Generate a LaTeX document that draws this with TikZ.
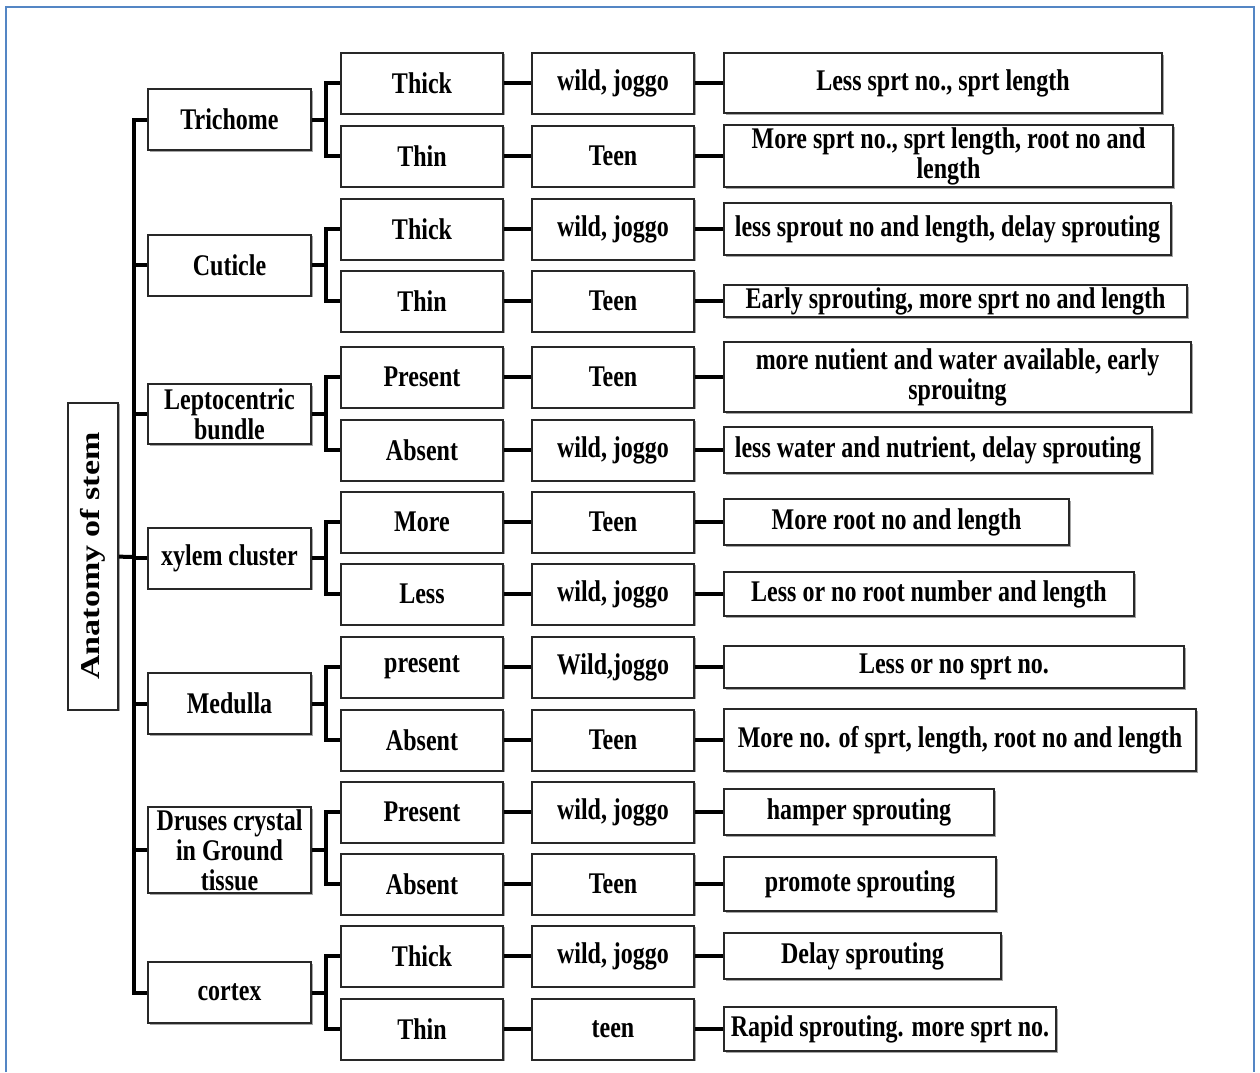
\documentclass[tikz,border=0pt]{standalone}
\usepackage{fontspec}
\setmainfont{Liberation Serif}[FakeStretch=0.8]
\newfontfamily\rootfont{Liberation Serif}
\usetikzlibrary{calc,shadows}
\definecolor{frameblue}{RGB}{84,134,196}
\definecolor{boxline}{RGB}{40,40,40}
\tikzset{
  box/.style={draw=boxline, line width=2pt, fill=white, inner sep=0pt, align=center,
    font=\fontsize{30}{30}\selectfont\bfseries,
    drop shadow={shadow xshift=1.5pt, shadow yshift=-1.5pt, opacity=0.35, fill=black}},
  partbox/.style={box, minimum width=163, minimum height=61},
  statebox/.style={box, minimum width=162, minimum height=61},
  conn/.style={line width=4pt, line join=miter},
}
\begin{document}
\begin{tikzpicture}[x=1pt,y=-1pt]
  \useasboundingbox (0,0) rectangle (1260,1072);
  \draw[frameblue, line width=2pt] (6,1072) -- (6,7) -- (1254,7) -- (1254,1072);

  % root
  \node[box, rotate=90, minimum width=307, minimum height=50] (root) at (93,556)
    {\scalebox{1}[0.8]{\rootfont\bfseries\fontsize{34}{34}\selectfont Anatomy of stem}};
  \coordinate (trunk) at (134,557);

  % parts of the stem
  \node[partbox] (trichome) at (229.5,119.5) {Trichome};
  \node[partbox] (cuticle) at (229.5,265) {Cuticle};
  \node[partbox, minimum height=60] (lepto) at (229.5,414) {Leptocentric\\bundle};
  \node[partbox] (xylem) at (229.5,558) {xylem cluster};
  \node[partbox] (medulla) at (229.5,703.5) {Medulla};
  \node[partbox, minimum height=86] (druses) at (229.5,850) {Druses crystal\\in Ground\\tissue};
  \node[partbox] (cortex) at (229.5,992.5) {cortex};

  % state, genotype, effect
  \foreach \i/\y/\state/\grp/\w/\h/\eff in {
    1/83/Thick/{wild, joggo}/438/60/{Less sprt no., sprt length},
    2/156/Thin/Teen/449/62/{More sprt no., sprt length, root no and\\length},
    3/229/Thick/{wild, joggo}/447/52/{less sprout no and length, delay sprouting},
    4/301/Thin/Teen/463/32/{Early sprouting, more sprt no and length},
    5/377/Present/Teen/467/70/{more nutient and water available, early\\sprouitng},
    6/450/Absent/{wild, joggo}/428/46/{less water and nutrient, delay sprouting},
    7/522/More/Teen/345/46/{More root no and length},
    8/594/Less/{wild, joggo}/410/44/{Less or no root number and length},
    9/667/present/{Wild,joggo}/460/42/{Less or no sprt no.},
    10/740/Absent/Teen/472/62/{More no. of sprt, length, root no and length},
    11/812/Present/{wild, joggo}/270/46/{hamper sprouting},
    12/884/Absent/Teen/272/54/{promote sprouting},
    13/956/Thick/{wild, joggo}/277/46/{Delay sprouting},
    14/1029/Thin/teen/332/44/{Rapid sprouting. more sprt no.}}{
    \node[statebox] (m\i) at (422,\y) {\state};
    \node[statebox] (g\i) at (613,\y) {\grp};
    \node[box, anchor=west, minimum width=\w, minimum height=\h] (r\i) at (723,\y) {\eff};
    \draw[conn] (m\i) -- (g\i);
    \draw[conn] (g\i) -- (r\i);
  }

  % tree lines
  \draw[conn] (root) -- (trunk);
  \draw[conn] (trichome) -| (trunk) |- (cortex);
  \foreach \n in {cuticle,lepto,xylem,medulla,druses}
    \draw[conn] (\n) -- (trunk |- \n);
  \foreach \n/\a/\b in {trichome/1/2, cuticle/3/4, lepto/5/6, xylem/7/8,
                        medulla/9/10, druses/11/12, cortex/13/14}{
    \coordinate (k\a) at ($(\n.east)!0.5!(\n.east -| m\a.west)$);
    \draw[conn] (\n) -- (k\a);
    \draw[conn] (m\a) -| (k\a) |- (m\b);
  }
\end{tikzpicture}
\end{document}
